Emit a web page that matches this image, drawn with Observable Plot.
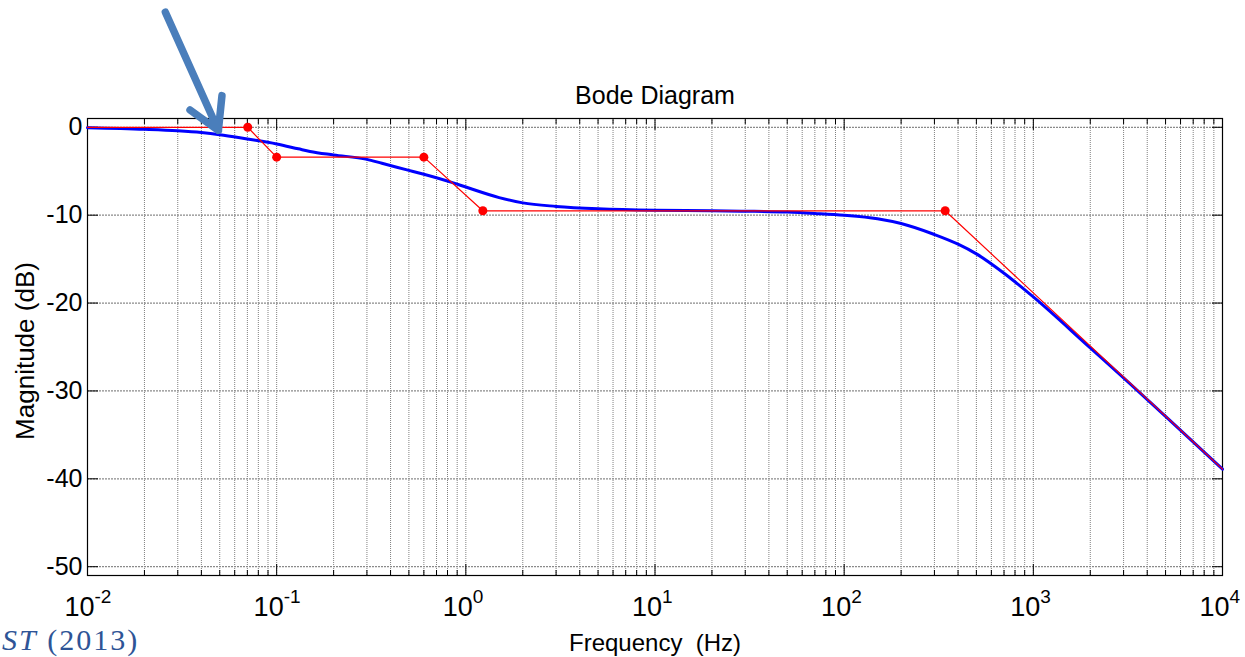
<!DOCTYPE html>
<html><head><meta charset="utf-8">
<script src="https://cdn.jsdelivr.net/npm/d3@7"></script>
<script src="https://cdn.jsdelivr.net/npm/@observablehq/plot@0.6"></script>
<style>
body{margin:0;background:#fff;}
#wrap{position:relative;width:1245px;height:657px;overflow:hidden;}
#cite{position:absolute;left:2px;top:625px;font-family:"Liberation Serif","Times New Roman",serif;font-size:30px;line-height:30px;letter-spacing:2px;color:#2E5496;white-space:nowrap;}
</style></head>
<body><div id="wrap"><div id="chart"></div><div id="cite"><i>ST</i> (2013)</div></div>
<script>
// ---- data ----
const blueFreq = [0.01,0.02,0.03,0.04,0.05,0.07,0.1,0.13,0.15,0.2,0.3,0.36,0.5,0.6,0.85,1,1.5,2,3,5,10,20,30,50,70,100,150,200,300,400,500,700,1000,2000,3000,5000,10000];
const blueMag  = [-0.05,-0.23,-0.4,-0.6,-0.84,-1.34,-1.9,-2.45,-2.75,-3.15,-3.65,-4.1,-4.9,-5.35,-6.3,-6.8,-8.0,-8.6,-9.0,-9.28,-9.45,-9.5,-9.55,-9.65,-9.8,-10.0,-10.4,-10.95,-12.2,-13.3,-14.4,-16.6,-19.3,-25.1,-28.5,-32.9,-38.9];
const redFreq = [0.01,0.0703,0.1,0.6,1.23,342,10000];
const redMag  = [0,0,-3.4,-3.4,-9.5,-9.5,-38.9];
const dotFreq = [0.0703,0.1,0.6,1.23,342];
const dotMag  = [0,-3.4,-3.4,-9.5,-9.5];
const arrowFreq = [0.0258,0.0492];
const arrowMag  = [13.1,-0.36];
const decadeExps = [-2,-1,0,1,2,3,4];
const xTickExpLabels = ["-2","-1","0","1","2","3","4"];
const gridMult = [2,3,4,5,6,7,8,9];
const yTicks = [0,-10,-20,-30,-40,-50];
const yTickLabels = ["0","-10","-20","-30","-40","-50"];
const titleText = "Bode Diagram";
const xLabel = "Frequency\u00A0\u00A0(Hz)";
const yLabel = "Magnitude (dB)";

const majorTicks = decadeExps.map(e => 10 ** e);
const minorTicks = decadeExps.slice(0, -1).flatMap(e => gridMult.map(m => m * 10 ** e));
const allTicks = majorTicks.concat(minorTicks);
const blue = blueFreq.map((f, i) => ({f, m: blueMag[i]}));
const red = redFreq.map((f, i) => ({f, m: redMag[i]}));
const dots = dotFreq.map((f, i) => ({f, m: dotMag[i]}));
const arrowData = [{x1: arrowFreq[0], y1: arrowMag[0], x2: arrowFreq[1], y2: arrowMag[1]}];
const xt = majorTicks.map((v, i) => ({v, e: xTickExpLabels[i]}));
const yt = yTicks.map((v, i) => ({v, t: yTickLabels[i]}));

const font = "Liberation Sans, Arial, Helvetica, sans-serif";
const chart = Plot.plot({
  width: 1245, height: 657,
  marginLeft: 87, marginRight: 23, marginTop: 118, marginBottom: 82,
  style: {fontFamily: font, background: "white", color: "black"},
  x: {type: "log", domain: [0.01, 10000], label: null},
  y: {domain: [-51, 1], label: null},
  marks: [
    Plot.ruleX(allTicks, {x: d => d, stroke: "#808080", strokeWidth: 1, strokeDasharray: "1,1"}),
    Plot.ruleY(yTicks, {y: d => d, stroke: "#8a8a8a", strokeWidth: 1.2, strokeDasharray: "2,1"}),
    Plot.axisX({ticks: minorTicks, anchor: "bottom", tickSize: -5, tickFormat: () => "", label: null}),
    Plot.axisX({ticks: minorTicks, anchor: "top", tickSize: -5, tickFormat: () => "", label: null}),
    Plot.axisX({ticks: majorTicks, anchor: "bottom", tickSize: -11, tickFormat: () => "", label: null}),
    Plot.axisX({ticks: majorTicks, anchor: "top", tickSize: -11, tickFormat: () => "", label: null}),
    Plot.axisY({ticks: yTicks, anchor: "left", tickSize: -11, tickFormat: () => "", label: null}),
    Plot.axisY({ticks: yTicks, anchor: "right", tickSize: -11, tickFormat: () => "", label: null}),
    Plot.frame({stroke: "black", strokeWidth: 1.2}),
    Plot.line(blue, {x: "f", y: "m", stroke: "#0000FF", strokeWidth: 3, curve: "monotone-x"}),
    Plot.line(red, {x: "f", y: "m", stroke: "#FF0000", strokeWidth: 1.2}),
    Plot.dot(dots, {x: "f", y: "m", r: 4.5, fill: "#FF0000", stroke: "none"}),
    Plot.arrow(arrowData, {x1: "x1", y1: "y1", x2: "x2", y2: "y2", stroke: "#4A7EBB", strokeWidth: 7.5, headLength: 7, headAngle: 60}),
    Plot.text(xt, {x: "v", frameAnchor: "bottom", text: () => "10", textAnchor: "end", lineAnchor: "bottom", dx: 7, dy: 40, fontSize: 27, fill: "black"}),
    Plot.text(xt, {x: "v", frameAnchor: "bottom", text: "e", textAnchor: "start", lineAnchor: "bottom", dx: 7, dy: 27, fontSize: 19, fill: "black"}),
    Plot.text(yt, {y: "v", frameAnchor: "left", text: "t", textAnchor: "end", lineAnchor: "middle", dx: -5, fontSize: 25, fill: "black"}),
    Plot.text([titleText], {frameAnchor: "top", text: d => d, textAnchor: "middle", lineAnchor: "bottom", dy: -15, fontSize: 25, fill: "black"}),
    Plot.text([xLabel], {frameAnchor: "bottom", text: d => d, textAnchor: "middle", lineAnchor: "bottom", dy: 75, fontSize: 24, fill: "black"}),
    Plot.text([yLabel], {frameAnchor: "left", text: d => d, rotate: -90, textAnchor: "middle", lineAnchor: "bottom", dx: -54, dy: 4, fontSize: 26, fill: "black"})
  ]
});
document.getElementById("chart").appendChild(chart);
</script>
</body></html>
